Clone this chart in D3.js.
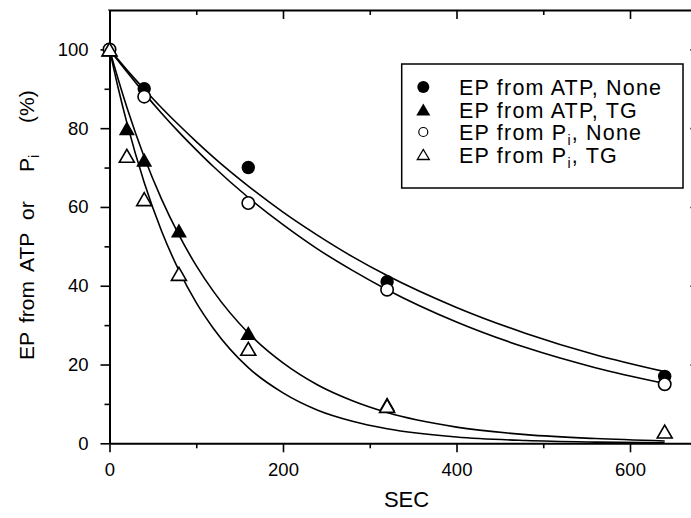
<!DOCTYPE html>
<html><head><meta charset="utf-8">
<script src="https://cdn.jsdelivr.net/npm/d3@7"></script>
<style>
html,body{margin:0;padding:0;background:#fff;}
svg{display:block;}
text{font-family:"Liberation Sans",Arial,sans-serif;fill:#000;}
</style>
</head><body>
<svg id="chart" width="691" height="518"></svg>
<script>
// ---------- data ----------
const atpNoneT = [0, 40, 160, 320, 640];
const atpNoneV = [100, 90, 70, 41, 17];
const atpTgT = [0, 20, 40, 80, 160, 320];
const atpTgV = [100, 80, 72, 54, 28, 10];
const piNoneT = [0, 40, 160, 320, 640];
const piNoneV = [100, 88, 61, 39, 15];
const piTgT = [0, 20, 40, 80, 160, 320, 640];
const piTgV = [100, 73, 62, 43, 24, 9.5, 3];

// fitted curves
const fitT = [0, 10, 20, 40, 60, 80, 100, 120, 160, 200, 240, 280, 320, 400, 480, 560, 640];
const fitAtpNone = [100, 97.4, 94.8, 89.9, 85.2, 80.8, 76.6, 72.6, 65.3, 58.7, 52.8, 47.4, 42.6, 34.5, 27.9, 22.5, 18.2];
const fitPiNone = [100, 97.1, 94.3, 88.9, 83.8, 79.0, 74.5, 70.2, 62.4, 55.5, 49.3, 43.9, 39.0, 30.8, 24.3, 19.2, 15.2];
const fitAtpTg = [100, 92.4, 85.3, 72.7, 62.0, 52.9, 45.1, 38.5, 28.0, 20.4, 14.8, 10.8, 7.8, 4.1, 2.2, 1.2, 0.6];
const fitPiTg = [100, 90.2, 81.4, 66.2, 53.9, 43.9, 35.7, 29.1, 19.2, 12.8, 8.4, 5.6, 3.7, 1.6, 0.7, 0.3, 0.1];

const xMajorTicks = [0, 200, 400, 600];
const xMinorTicks = [100, 300, 500];
const yMajorTicks = [0, 20, 40, 60, 80, 100];
const yMinorTicks = [10, 30, 50, 70, 90];

const legendLabels = [
  {main: "EP from ATP, None"},
  {main: "EP from ATP, TG"},
  {pre: "EP from P", sub: "i", post: ", None"},
  {pre: "EP from P", sub: "i", post: ", TG"}
];
const xTitle = "SEC";
const yTitleWords = ["EP", "from", "ATP", "or", "P"];
const yTitleSub = "i";
const yTitleUnit = "(%)";

// ---------- layout ----------
const svg = d3.select("#chart");
const L = 109.5, R = 699.4, T = 10, B = 443.3;
const x = d3.scaleLinear().domain([0, 680]).range([L, R]);
const y = d3.scaleLinear().domain([0, 110]).range([B, T]);

function tri(cx, cy, w, h) {
  return `M${cx - w/2},${cy + h/2}L${cx + w/2},${cy + h/2}L${cx},${cy - h/2}Z`;
}

// ---------- axes ----------
const axW = 2;
function styleAxis(g) {
  g.selectAll("path.domain").attr("stroke", "#000").attr("stroke-width", axW);
  g.selectAll(".tick line").attr("stroke", "#000").attr("stroke-width", 1.6);
  g.selectAll(".tick text").style("font-size", "18.5px").style("font-family", '"Liberation Sans",Arial,sans-serif');
}
// bottom
const gxB = svg.append("g").attr("transform", `translate(0,${B})`)
  .call(d3.axisBottom(x).tickValues(xMajorTicks).tickSize(9).tickSizeOuter(0).tickPadding(10).tickFormat(d3.format("d")));
styleAxis(gxB);
gxB.selectAll(".tick text").attr("dy", null).attr("y", 33);
svg.append("g").attr("transform", `translate(0,${B})`)
  .call(d3.axisBottom(x).tickValues(xMinorTicks).tickSize(5).tickSizeOuter(0).tickFormat(""))
  .call(g => { g.select("path.domain").remove(); styleAxis(g); });
// top
const gxT = svg.append("g").attr("transform", `translate(0,${T})`)
  .call(d3.axisBottom(x).tickValues(xMajorTicks).tickSize(9).tickSizeOuter(0).tickFormat(""));
styleAxis(gxT);
svg.append("g").attr("transform", `translate(0,${T})`)
  .call(d3.axisBottom(x).tickValues(xMinorTicks).tickSize(5).tickSizeOuter(0).tickFormat(""))
  .call(g => { g.select("path.domain").remove(); styleAxis(g); });
// left
const gyL = svg.append("g").attr("transform", `translate(${L},0)`)
  .call(d3.axisLeft(y).tickValues(yMajorTicks).tickSize(9).tickSizeOuter(0).tickPadding(12).tickFormat(d3.format("d")));
styleAxis(gyL);
svg.append("g").attr("transform", `translate(${L},0)`)
  .call(d3.axisLeft(y).tickValues(yMinorTicks).tickSize(5).tickSizeOuter(0).tickFormat(""))
  .call(g => { g.select("path.domain").remove(); styleAxis(g); });
// right
const gyR = svg.append("g").attr("transform", `translate(${R},0)`)
  .call(d3.axisLeft(y).tickValues(yMajorTicks).tickSize(9).tickSizeOuter(0).tickFormat(""));
styleAxis(gyR);
svg.append("g").attr("transform", `translate(${R},0)`)
  .call(d3.axisLeft(y).tickValues(yMinorTicks).tickSize(5).tickSizeOuter(0).tickFormat(""))
  .call(g => { g.select("path.domain").remove(); styleAxis(g); });
svg.append("line").attr("x1", L - 1).attr("x2", L).attr("y1", T).attr("y2", T).attr("stroke", "#000").attr("stroke-width", axW);

// ---------- curves ----------
const line = d3.line().x((d, i) => x(fitT[i])).y(d => y(d)).curve(d3.curveMonotoneX);
[fitAtpNone, fitPiNone, fitAtpTg, fitPiTg].forEach(arr => {
  svg.append("path").datum(arr).attr("d", line)
    .attr("fill", "none").attr("stroke", "#000").attr("stroke-width", 1.6);
});

// ---------- markers ----------
const ptsAtpNone = atpNoneT.map((t, i) => [t, atpNoneV[i]]);
const ptsAtpTg = atpTgT.map((t, i) => [t, atpTgV[i]]);
const ptsPiNone = piNoneT.map((t, i) => [t, piNoneV[i]]);
const ptsPiTg = piTgT.map((t, i) => [t, piTgV[i]]);

svg.append("g").selectAll("circle").data(ptsAtpNone).join("circle")
  .attr("cx", d => x(d[0])).attr("cy", d => y(d[1])).attr("r", 6.7).attr("fill", "#000");
svg.append("g").selectAll("path").data(ptsAtpTg).join("path")
  .attr("d", d => tri(x(d[0]), y(d[1]), 16, 14)).attr("fill", "#000");
svg.append("g").selectAll("circle").data(ptsPiNone).join("circle")
  .attr("cx", d => x(d[0])).attr("cy", d => y(d[1])).attr("r", 6.2)
  .attr("fill", "#fff").attr("stroke", "#000").attr("stroke-width", 1.6);
svg.append("g").selectAll("path").data(ptsPiTg).join("path")
  .attr("d", d => tri(x(d[0]), y(d[1]), 15, 13))
  .attr("fill", "#fff").attr("stroke", "#000").attr("stroke-width", 1.6).attr("stroke-linejoin", "miter");

// ---------- legend ----------
const lg = svg.append("g");
lg.append("rect").attr("x", 401.7).attr("y", 64).attr("width", 281.3).attr("height", 124)
  .attr("fill", "#fff").attr("stroke", "#000").attr("stroke-width", 1.5);
const rowY = [87, 109.5, 132, 154.5];
const mx = 423.3, tx = 459;
lg.append("circle").attr("cx", mx).attr("cy", rowY[0]).attr("r", 6).attr("fill", "#000");
lg.append("path").attr("d", tri(mx, rowY[1], 14, 12)).attr("fill", "#000");
lg.append("circle").attr("cx", mx).attr("cy", rowY[2]).attr("r", 4.5).attr("fill", "#fff").attr("stroke", "#000").attr("stroke-width", 1.2);
lg.append("path").attr("d", tri(mx, rowY[3], 12, 10)).attr("fill", "#fff").attr("stroke", "#000").attr("stroke-width", 1.3);
legendLabels.forEach((lab, i) => {
  const t = lg.append("text").attr("x", tx).attr("y", rowY[i] + 8)
    .style("font-size", "21.5px").style("letter-spacing", "1.2px");
  if (lab.main) { t.text(lab.main); }
  else {
    t.append("tspan").text(lab.pre);
    t.append("tspan").attr("dy", 5).style("font-size", "14px").text(lab.sub);
    t.append("tspan").attr("dy", -5).text(lab.post);
  }
});

// ---------- axis titles ----------
svg.append("text").attr("x", 406.5).attr("y", 507).attr("text-anchor", "middle")
  .style("font-size", "22px").text(xTitle);

const yWordPos = [0, 37, 88, 140, 188];
const yt = svg.append("text").attr("transform", "translate(33.5,360) rotate(-90)")
  .style("font-size", "21px");
yTitleWords.forEach((w, i) => yt.append("tspan").attr("x", yWordPos[i]).attr("y", 0).text(w));
yt.append("tspan").attr("dy", 5).style("font-size", "14px").text(yTitleSub);
yt.append("tspan").attr("x", 237).attr("y", 0).text(yTitleUnit);
</script>
</body></html>
